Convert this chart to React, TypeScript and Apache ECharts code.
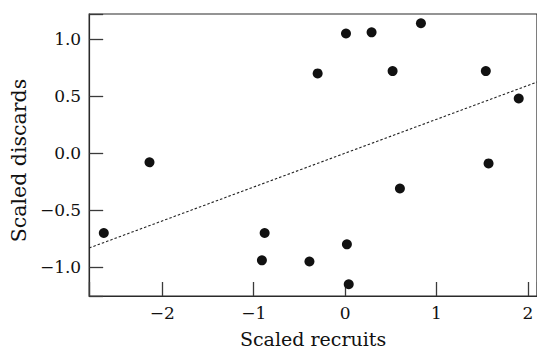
import React, { useEffect, useRef } from "react";
import * as echarts from "echarts";

// Scaled recruits (x) and scaled discards (y)
const recruits = [-2.14, -2.64, -0.88, -0.91, -0.39, 0.02, 0.04, 0.6, -0.3, 0.01, 0.29, 0.83, 0.52, 1.54, 1.9, 1.57];
const discards = [-0.08, -0.7, -0.7, -0.94, -0.95, -0.8, -1.15, -0.31, 0.7, 1.05, 1.06, 1.14, 0.72, 0.72, 0.48, -0.09];

const xTicks = [-2, -1, 0, 1, 2];
const yTicks = [-1, -0.5, 0, 0.5, 1];

const xMin = -2.8;
const xMax = 2.1;
const yMin = -1.253;
const yMax = 1.221;

// Fitted regression line
const fitSlope = 0.297;
const fitIntercept = 0.0;

const FONT = "DejaVu Serif";

function fmtMinus(s: string) {
  return s.replace("-", "\u2212");
}

export default function App() {
  const ref = useRef<HTMLDivElement>(null);
  useEffect(() => {
    if (!ref.current) return;
    const chart = echarts.init(ref.current, undefined, { renderer: "svg" });
    const points = recruits.map((x, i) => [x, discards[i]]);
    const line = [
      [xMin, fitIntercept + fitSlope * xMin],
      [xMax, fitIntercept + fitSlope * xMax],
    ];
    chart.setOption({
      animation: false,
      backgroundColor: "#ffffff",
      grid: {
        left: 88,
        top: 14,
        right: -4,
        bottom: 56,
        show: true,
        borderColor: "#2a2a2a",
        borderWidth: 1.2,
      },
      xAxis: {
        type: "value",
        min: xMin,
        max: xMax,
        name: "Scaled recruits",
        nameLocation: "middle",
        nameGap: 33,
        nameTextStyle: { fontFamily: FONT, fontSize: 19, color: "#111" },
        axisLine: { show: true, onZero: false, lineStyle: { color: "#2a2a2a", width: 1.2 } },
        axisTick: { show: true, inside: true, length: 14, lineStyle: { color: "#3a3a3a", width: 1.3 } },
        axisLabel: {
          customValues: xTicks,
          fontFamily: FONT,
          fontSize: 17,
          color: "#111",
          margin: 8,
          formatter: (v: number) => fmtMinus(String(v)),
        },
        splitLine: { show: false },
      },
      yAxis: {
        type: "value",
        min: yMin,
        max: yMax,
        name: "Scaled discards",
        nameLocation: "middle",
        nameGap: 58,
        nameRotate: 90,
        nameTextStyle: { fontFamily: FONT, fontSize: 20.5, color: "#111", padding: [0, 0, 0, -11] },
        axisLine: { show: true, onZero: false, lineStyle: { color: "#2a2a2a", width: 1.2 } },
        axisTick: { show: true, inside: true, length: 14, lineStyle: { color: "#3a3a3a", width: 1.3 } },
        axisLabel: {
          customValues: yTicks,
          fontFamily: FONT,
          fontSize: 17,
          color: "#111",
          margin: 8,
          formatter: (v: number) => fmtMinus(v.toFixed(1)),
        },
        splitLine: { show: false },
      },
      series: [
        {
          type: "line",
          data: line,
          showSymbol: false,
          symbol: "none",
          lineStyle: { color: "#222", width: 1.1, type: [2.5, 2] },
          silent: true,
          z: 1,
        },
        {
          type: "scatter",
          data: points,
          symbol: "circle",
          symbolSize: 10,
          itemStyle: { color: "#111111", opacity: 1 },
          z: 2,
        },
      ],
    });
    return () => chart.dispose();
  }, []);
  return (
    <div
      ref={ref}
      style={{ position: "fixed", left: 0, top: 0, width: 537, height: 353 }}
    />
  );
}
